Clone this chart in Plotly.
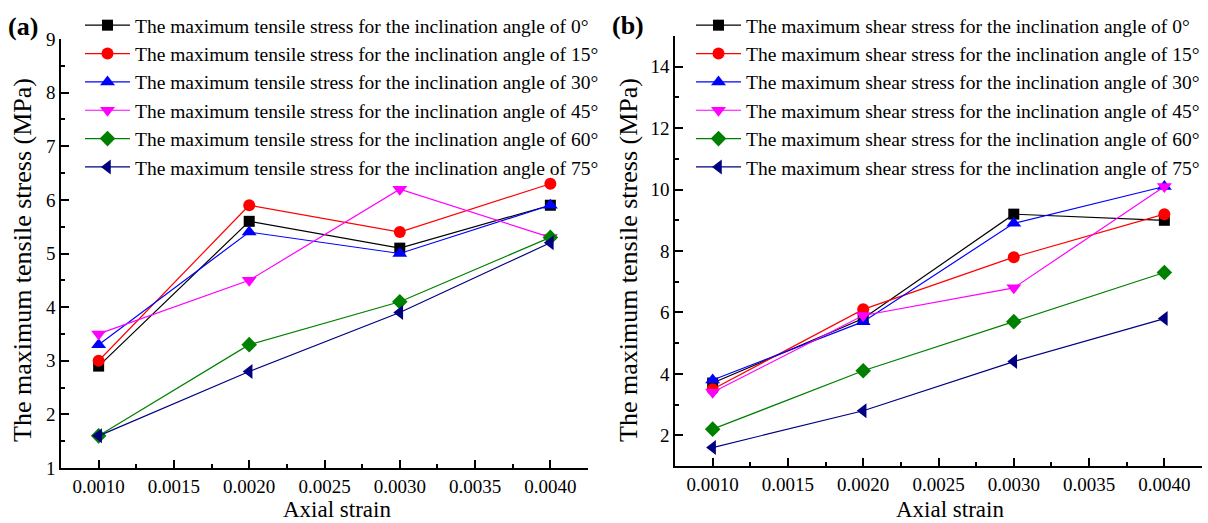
import plotly.graph_objects as go

strain = [0.0010, 0.0020, 0.0030, 0.0040]
angles = ["0°", "15°", "30°", "45°", "60°", "75°"]

tensile_0 = [2.9, 5.6, 5.1, 5.9]
tensile_15 = [3.0, 5.9, 5.4, 6.3]
tensile_30 = [3.3, 5.4, 5.0, 5.9]
tensile_45 = [3.5, 4.5, 6.2, 5.3]
tensile_60 = [1.6, 3.3, 4.1, 5.3]
tensile_75 = [1.6, 2.8, 3.9, 5.2]

shear_0 = [3.7, 5.8, 9.2, 9.0]
shear_15 = [3.5, 6.1, 7.8, 9.2]
shear_30 = [3.8, 5.7, 8.9, 10.1]
shear_45 = [3.4, 5.9, 6.8, 10.1]
shear_60 = [2.2, 4.1, 5.7, 7.3]
shear_75 = [1.6, 2.8, 4.4, 5.8]

x_ticks = [0.0010, 0.0015, 0.0020, 0.0025, 0.0030, 0.0035, 0.0040]
x_ticklabels = ["0.0010", "0.0015", "0.0020", "0.0025", "0.0030", "0.0035", "0.0040"]

colors = ["#000000", "#FF0000", "#0000FF", "#FF00FF", "#008000", "#000080"]
symbols = ["square", "circle", "triangle-up", "triangle-down", "diamond", "triangle-left"]
sizes = [11, 12, 13, 13, 12, 13]

tensile = [tensile_0, tensile_15, tensile_30, tensile_45, tensile_60, tensile_75]
shear = [shear_0, shear_15, shear_30, shear_45, shear_60, shear_75]

FONT = "Liberation Serif"
W, H = 1208, 523

fig = go.Figure()
for i, a in enumerate(angles):
    fig.add_trace(go.Scatter(
        x=strain, y=tensile[i], mode="lines+markers",
        name=f"The maximum tensile stress for the inclination angle of {a}",
        line=dict(color=colors[i], width=1.2),
        marker=dict(symbol=symbols[i], size=sizes[i], color=colors[i]),
        xaxis="x", yaxis="y", legend="legend"))
for i, a in enumerate(angles):
    fig.add_trace(go.Scatter(
        x=strain, y=shear[i], mode="lines+markers",
        name=f"The maximum shear stress for the inclination angle of {a}",
        line=dict(color=colors[i], width=1.2),
        marker=dict(symbol=symbols[i], size=sizes[i], color=colors[i]),
        xaxis="x2", yaxis="y2", legend="legend2"))

def px_x(p):
    return p / W

def px_y(p):
    return 1 - p / H

xcommon = dict(range=[0.00075, 0.00425], tickvals=x_ticks, ticktext=x_ticklabels,
               showline=True, linecolor="black", linewidth=1.5, showgrid=False, zeroline=False,
               ticks="inside", ticklen=8, tickwidth=1.5, tickcolor="black",
               tickfont=dict(family=FONT, size=19, color="black"),
               minor=dict(dtick=0.00025, tick0=0.00075, ticks="inside", ticklen=4, tickwidth=1.5, tickcolor="black"),
               mirror=False, automargin=False)
ycommon = dict(showline=True, linecolor="black", linewidth=1.5, showgrid=False, zeroline=False,
               ticks="inside", ticklen=8, tickwidth=1.5, tickcolor="black",
               tickfont=dict(family=FONT, size=19, color="black"), mirror=False, automargin=False)

fig.update_layout(
    width=W, height=H, margin=dict(l=0, r=0, t=0, b=0, autoexpand=False),
    paper_bgcolor="white", plot_bgcolor="white",
    font=dict(family=FONT, color="black"),
    xaxis=dict(domain=[px_x(61), px_x(588)], anchor="y", **xcommon),
    xaxis2=dict(domain=[px_x(675), px_x(1202)], anchor="y2", **xcommon),
    yaxis=dict(domain=[px_y(468), px_y(39)], anchor="x", range=[1, 9], dtick=1, tick0=1,
               minor=dict(dtick=0.5, tick0=1, ticks="inside", ticklen=4, tickwidth=1.5, tickcolor="black"),
               **ycommon),
    yaxis2=dict(domain=[px_y(466), px_y(36)], anchor="x2", range=[1, 15], dtick=2, tick0=2,
                minor=dict(dtick=1, tick0=1, ticks="inside", ticklen=4, tickwidth=1.5, tickcolor="black"),
                **ycommon),
    legend=dict(x=px_x(80), y=px_y(6), xanchor="left", yanchor="top",
                font=dict(family=FONT, size=19.5, color="black"), bgcolor="rgba(0,0,0,0)",
                itemwidth=45, borderwidth=0),
    legend2=dict(x=px_x(691), y=px_y(6), xanchor="left", yanchor="top",
                 font=dict(family=FONT, size=19.5, color="black"), bgcolor="rgba(0,0,0,0)",
                 itemwidth=45, borderwidth=0),
    showlegend=True,
)

annos = [
    dict(text="<b>(a)</b>", x=px_x(23), y=px_y(27), size=26, angle=0),
    dict(text="<b>(b)</b>", x=px_x(628), y=px_y(25), size=26, angle=0),
    dict(text="Axial strain", x=px_x(337), y=px_y(509), size=23, angle=0),
    dict(text="Axial strain", x=px_x(950), y=px_y(509), size=23, angle=0),
    dict(text="The maximum tensile stress (MPa)", x=px_x(22), y=px_y(260), size=26, angle=-90),
    dict(text="The maximum tensile stress (MPa)", x=px_x(628), y=px_y(260), size=26, angle=-90),
]
for a in annos:
    fig.add_annotation(xref="paper", yref="paper", showarrow=False, xanchor="center", yanchor="middle",
                       text=a["text"], x=a["x"], y=a["y"], textangle=a["angle"],
                       font=dict(family=FONT, color="black", size=a["size"]))

fig.write_html("out.html")
